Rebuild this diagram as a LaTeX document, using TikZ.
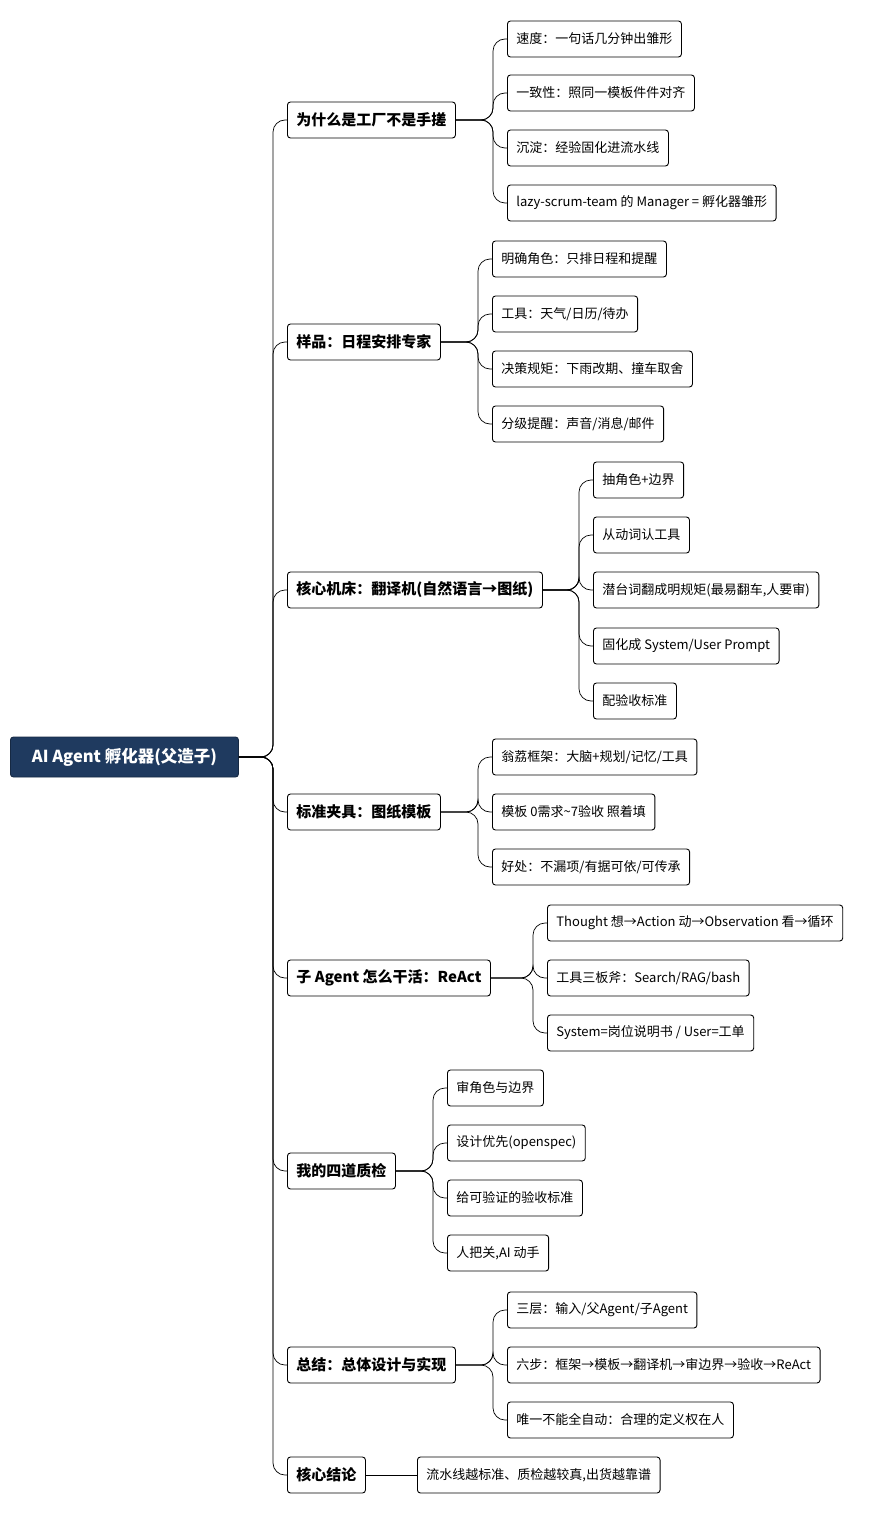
\documentclass[tikz,border=0pt]{standalone}
\usepackage{fontspec}
\setmainfont{Noto Sans CJK SC}
\usetikzlibrary{positioning}
\definecolor{navy}{HTML}{1F3A5F}
\tikzset{
  box/.style={draw=black, line width=0.9pt, rounded corners=3pt, fill=white,
    anchor=west, minimum height=36pt, inner xsep=9pt, font=\fontsize{13}{15}\selectfont},
  topic/.style={box, font=\fontsize{15}{17}\selectfont\bfseries},
  root/.style={box, fill=navy, draw=navy!70!black, text=white, minimum height=40pt,
    minimum width=228pt, font=\fontsize{16.5}{19}\selectfont\bfseries},
  link/.style={draw=black, line width=0.7pt, rounded corners=12pt}
}
\newcommand{\branch}[2]{\draw[link] (#1.east) -| ([xshift=-14pt]#2.west) -- (#2.west);}
\begin{document}
\begin{tikzpicture}[x=1pt,y=-1pt]
\useasboundingbox (0,0) rectangle (873,1514);

% root
\node[root] (ai) at (10,757) {AI Agent 孵化器(父造子)};

% topics
\node[topic] (t1) at (287,120) {为什么是工厂不是手搓};
\node[topic] (t2) at (287,342) {样品：日程安排专家};
\node[topic] (t3) at (287,590) {核心机床：翻译机(自然语言→图纸)};
\node[topic] (t4) at (287,812) {标准夹具：图纸模板};
\node[topic] (t5) at (287,978) {子 Agent 怎么干活：ReAct};
\node[topic] (t6) at (287,1171) {我的四道质检};
\node[topic] (t7) at (287,1365) {总结：总体设计与实现};
\node[topic] (t8) at (287,1475) {核心结论};

% leaves
\node[box] (a1) at (507,39) {速度：一句话几分钟出雏形};
\node[box] (a2) at (507,93) {一致性：照同一模板件件对齐};
\node[box] (a3) at (507,148) {沉淀：经验固化进流水线};
\node[box] (a4) at (507,203) {lazy-scrum-team 的 Manager = 孵化器雏形};

\node[box] (b1) at (492,259) {明确角色：只排日程和提醒};
\node[box] (b2) at (492,314) {工具：天气/日历/待办};
\node[box] (b3) at (492,369) {决策规矩：下雨改期、撞车取舍};
\node[box] (b4) at (492,424) {分级提醒：声音/消息/邮件};

\node[box] (c1) at (593,480) {抽角色+边界};
\node[box] (c2) at (593,535) {从动词认工具};
\node[box] (c3) at (593,590) {潜台词翻成明规矩(最易翻车,人要审)};
\node[box] (c4) at (593,646) {固化成 System/User Prompt};
\node[box] (c5) at (593,701) {配验收标准};

\node[box] (d1) at (492,757) {翁荔框架：大脑+规划/记忆/工具};
\node[box] (d2) at (492,812) {模板 0需求\textasciitilde7验收 照着填};
\node[box] (d3) at (492,867) {好处：不漏项/有据可依/可传承};

\node[box] (e1) at (547,923) {Thought 想→Action 动→Observation 看→循环};
\node[box] (e2) at (547,978) {工具三板斧：Search/RAG/bash};
\node[box] (e3) at (547,1033) {System=岗位说明书 / User=工单};

\node[box] (f1) at (447,1088) {审角色与边界};
\node[box] (f2) at (447,1143) {设计优先(openspec)};
\node[box] (f3) at (447,1198) {给可验证的验收标准};
\node[box] (f4) at (447,1253) {人把关,AI 动手};

\node[box] (g1) at (507,1310) {三层：输入/父Agent/子Agent};
\node[box] (g2) at (507,1365) {六步：框架→模板→翻译机→审边界→验收→ReAct};
\node[box] (g3) at (507,1420) {唯一不能全自动：合理的定义权在人};

\node[box] (h1) at (417,1475) {流水线越标准、质检越较真,出货越靠谱};

% connectors
\foreach \t in {t1,t2,t3,t4,t5,t6,t7,t8}{\branch{ai}{\t}}
\foreach \n in {a1,a2,a3,a4}{\branch{t1}{\n}}
\foreach \n in {b1,b2,b3,b4}{\branch{t2}{\n}}
\foreach \n in {c1,c2,c3,c4,c5}{\branch{t3}{\n}}
\foreach \n in {d1,d2,d3}{\branch{t4}{\n}}
\foreach \n in {e1,e2,e3}{\branch{t5}{\n}}
\foreach \n in {f1,f2,f3,f4}{\branch{t6}{\n}}
\foreach \n in {g1,g2,g3}{\branch{t7}{\n}}
\draw[link] (t8) -- (h1);
\end{tikzpicture}
\end{document}
